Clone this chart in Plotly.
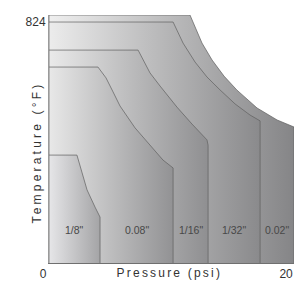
import plotly.graph_objects as go

# Pressure (psi) / Temperature (°F) boundaries
labels = ['0.02"', '1/32"', '1/16"', '0.08"', '1/8"']

p_002 = [0, 0, 11.60, 12.10, 12.59, 13.42, 14.40, 15.47, 17.12, 18.77, 20.16, 20.16]
t_002 = [0, 848, 848, 797, 752, 694, 639, 591, 530, 489, 465, 0]

p_132 = [0, 0, 10.21, 10.62, 11.03, 12.02, 13.00, 14.07, 15.31, 16.54, 17.37, 17.37]
t_132 = [0, 824, 824, 790, 752, 687, 636, 592, 544, 506, 486, 0]

p_116 = [0, 0, 7.33, 7.74, 8.31, 9.14, 10.53, 11.77, 13.00, 13.09, 13.09]
t_116 = [0, 728, 728, 694, 650, 605, 533, 475, 421, 403, 0]

p_008 = [0, 0, 4.03, 4.69, 5.27, 5.84, 7.08, 8.31, 9.38, 10.21, 10.21]
t_008 = [0, 670, 670, 633, 585, 537, 462, 403, 352, 325, 0]

p_18 = [0, 0, 2.30, 2.63, 3.13, 3.79, 4.20, 4.20]
t_18 = [0, 369, 369, 318, 250, 191, 157, 0]

label_temp = 113
x_ticks = [0, 20]
y_ticks = [824]

shapes_p = [p_002, p_132, p_116, p_008, p_18]
shapes_t = [t_002, t_132, t_116, t_008, t_18]
grads = [
    ("#efefef", "#858587"),
    ("#ececec", "#8a8a8c"),
    ("#eaeaea", "#8f8f91"),
    ("#e8e8e8", "#929294"),
    ("#e6e6e8", "#a4a4a6"),
]

fig = go.Figure()
for p, t, (c0, c1), name in zip(shapes_p, shapes_t, grads, labels):
    fig.add_trace(go.Scatter(
        x=p, y=t, mode="lines", fill="toself", name=name,
        line=dict(color="rgba(95,95,95,0.7)", width=1),
        fillgradient=dict(type="horizontal",
                          colorscale=[[0, c0], [1, c1]]),
        hoverinfo="skip", showlegend=False,
    ))

# region labels centred on each visible strip
edges = [max(p) for p in shapes_p][::-1]  # 1/8", 0.08", 1/16", 1/32", 0.02"
lefts = [0] + edges[:-1]
for lab, l, r in zip(labels[::-1], lefts, edges):
    fig.add_annotation(x=(l + r) / 2, y=label_temp, xref="x", yref="y",
                       text=lab, showarrow=False,
                       font=dict(family="Liberation Sans", size=10.5, color="#484848"))

fig.add_annotation(x=0.49, y=-0.04, xref="paper", yref="paper",
                   xanchor="center", yanchor="middle",
                   text="Pressure (psi)", showarrow=False,
                   font=dict(family="Liberation Sans", size=12, color="#333333"))
fig.add_annotation(x=-0.049, y=0.448, xref="paper", yref="paper",
                   xanchor="center", yanchor="middle",
                   text="Temperature (°F)", showarrow=False, textangle=-90,
                   font=dict(family="Liberation Sans", size=12, color="#333333"))

fig.update_layout(
    template="none",
    width=294, height=281,
    margin=dict(l=49, r=0, t=15, b=18, autoexpand=False),
    paper_bgcolor="white", plot_bgcolor="white",
    xaxis=dict(range=[0, 20.16], tickvals=x_ticks, ticktext=[str(v) for v in x_ticks],
               showgrid=False, zeroline=False, showline=True, linecolor="#6f6f6f",
               linewidth=1, ticks="", ticklabelshift=-6, automargin=False,
               tickfont=dict(family="Liberation Sans", size=12, color="#333333")),
    yaxis=dict(range=[0, 848], tickvals=y_ticks, ticktext=[str(v) for v in y_ticks],
               showgrid=False, zeroline=False, showline=True, linecolor="#9a9a9a",
               linewidth=1, ticks="", automargin=False,
               tickfont=dict(family="Liberation Sans", size=12, color="#333333")),
)

post = """
document.body.style.margin = '0';
document.querySelectorAll('.annotation-text').forEach(function(t){
  if (t.textContent.indexOf('Pressure') >= 0) t.style.letterSpacing = '2.2px';
  if (t.textContent.indexOf('Temperature') >= 0) t.style.letterSpacing = '3.2px';
});
"""
fig.write_html("out.html", post_script=post, config={"displayModeBar": False})
